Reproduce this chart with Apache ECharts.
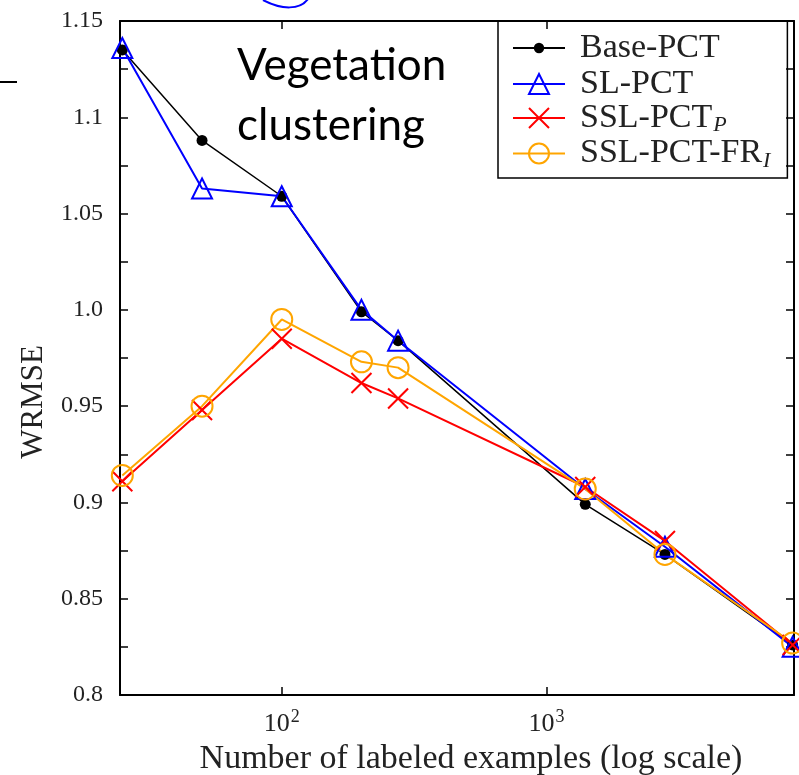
<!DOCTYPE html>
<html lang="en">
<head>
<meta charset="UTF-8">
<title>Vegetation clustering</title>
<script src="https://cdn.jsdelivr.net/npm/echarts@6/dist/echarts.min.js"></script>
<style>
    html, body { margin: 0; padding: 0; background: #fff; }
    #main { width: 799px; height: 775px; }
</style>
</head>
<body>
<div id="main"></div>
<script>
    // x: number of labeled examples (log scale)
    var labeled = [25, 50, 100, 200, 275, 1400, 2800, 8500];
    // WRMSE per method
    var basePct   = [1.135, 1.088, 1.059, 0.999, 0.984, 0.899, 0.873, 0.826];
    var slPct     = [1.136, 1.063, 1.059, 1.000, 0.984, 0.907, 0.877, 0.825];
    var sslPctP   = [0.911, 0.948, 0.985, 0.962, 0.954, 0.908, 0.880, 0.826];
    var sslPctFrI = [0.914, 0.950, 0.995, 0.973, 0.970, 0.907, 0.873, 0.827];
    var seriesNames = ['Base-PCT', 'SL-PCT', 'SSL-PCT_P', 'SSL-PCT-FR_I'];

    function pairs(ys) {
        var out = [];
        for (var i = 0; i < labeled.length; i++) out.push([labeled[i], ys[i]]);
        return out;
    }

    var serif = 'Liberation Serif';
    var txt = '#222';

    // legend label: "_X" -> italic subscript
    function legendText(name) {
        var k = name.indexOf('_');
        if (k < 0) return name;
        return name.slice(0, k) + '{sub|' + name.slice(k + 1) + '}';
    }

    function yLabel(v) {
        var s = String(parseFloat(v.toFixed(3)));
        return s === '1' ? '1.0' : s;
    }

    function xLabel(v) {
        var e = Math.log(v) / Math.LN10;
        if (Math.abs(e - Math.round(e)) > 1e-6) return '';
        return '{b|10}{s|' + Math.round(e) + '}';
    }

    var tickStyle = { show: true, inside: true, length: 8, lineStyle: { color: '#000', width: 1.5 } };
    var lineStyle = { show: true, lineStyle: { color: '#000', width: 2 } };

    var myChart = echarts.init(document.getElementById('main'));

    var option = {
        backgroundColor: '#fff',
        animation: false,
        grid: { left: 120, top: 21, right: 5, bottom: 80, outerBoundsMode: 'none', containLabel: false },
        xAxis: [{
            type: 'log',
            logBase: 10,
            min: 24.5,
            max: 8600,
            position: 'bottom',
            axisLine: lineStyle,
            axisTick: tickStyle,
            splitLine: { show: false },
            minorTick: { show: false },
            axisLabel: {
                margin: 13,
                formatter: xLabel,
                rich: {
                    b: { fontFamily: serif, fontSize: 26, color: txt },
                    s: { fontFamily: serif, fontSize: 18, color: txt, padding: [0, 0, 15, 1] }
                }
            },
            name: 'Number of labeled examples (log scale)',
            nameLocation: 'middle',
            nameGap: 46,
            nameTextStyle: { fontFamily: serif, fontSize: 34, color: txt, padding: [0, 0, 0, 28] }
        }, {
            type: 'log',
            logBase: 10,
            min: 24.5,
            max: 8600,
            position: 'top',
            axisLine: lineStyle,
            axisTick: tickStyle,
            axisLabel: { show: false },
            splitLine: { show: false }
        }],
        yAxis: [{
            type: 'value',
            min: 0.8,
            max: 1.15,
            interval: 0.05,
            position: 'left',
            axisLine: lineStyle,
            axisTick: tickStyle,
            minorTick: { show: true, splitNumber: 2, length: 8, lineStyle: { color: '#000', width: 1.5 } },
            splitLine: { show: false },
            axisLabel: { margin: 17, formatter: yLabel, fontFamily: serif, fontSize: 24, color: txt },
            name: 'WRMSE',
            nameLocation: 'middle',
            nameRotate: 90,
            nameGap: 71,
            nameTextStyle: { fontFamily: serif, fontSize: 31, color: txt, padding: [0, 88, 0, 0] }
        }, {
            type: 'value',
            min: 0.8,
            max: 1.15,
            interval: 0.05,
            position: 'right',
            axisLine: lineStyle,
            axisTick: tickStyle,
            minorTick: { show: true, splitNumber: 2, length: 8, lineStyle: { color: '#000', width: 1.5 } },
            splitLine: { show: false },
            axisLabel: { show: false }
        }],
        legend: [{
            // the bordered box, holds the three larger markers
            data: seriesNames.slice(1),
            orient: 'vertical',
            left: 498,
            top: 21,
            padding: [46, 17, 6, 14],
            itemWidth: 52,
            itemHeight: 25,
            itemGap: 0,
            borderColor: '#000',
            borderWidth: 1.5,
            formatter: legendText,
            textStyle: {
                fontFamily: serif, fontSize: 34, color: txt, padding: [0, 0, 0, 10],
                rich: { sub: { fontFamily: serif, fontStyle: 'italic', fontSize: 22, color: txt, padding: [15, 0, 0, 1] } }
            }
        }, {
            // Base-PCT with its small dot
            data: seriesNames.slice(0, 1),
            orient: 'vertical',
            left: 498,
            top: 31,
            padding: [0, 0, 0, 14],
            itemWidth: 52,
            itemHeight: 13,
            formatter: legendText,
            textStyle: { fontFamily: serif, fontSize: 34, color: txt, padding: [0, 0, 0, 10] }
        }],
        graphic: [{
            type: 'text',
            left: 237,
            top: 36,
            style: {
                text: 'Vegetation\nclustering',
                font: '44px Lato',
                lineHeight: 60,
                fill: '#000'
            }
        }, {
            type: 'line',
            shape: { x1: 0, y1: 82, x2: 17, y2: 82 },
            style: { stroke: '#000', lineWidth: 2 }
        }, {
            type: 'bezierCurve',
            shape: { x1: 263, y1: 0, cpx1: 282, cpy1: 10, cpx2: 300, cpy2: 10, x2: 308, y2: -1 },
            style: { stroke: '#0000ff', lineWidth: 2, fill: null }
        }],
        series: [{
            name: 'Base-PCT',
            type: 'line',
            data: pairs(basePct),
            symbol: 'circle',
            symbolSize: 11,
            lineStyle: { color: '#000', width: 1.5 },
            itemStyle: { color: '#000' }
        }, {
            name: 'SL-PCT',
            type: 'line',
            data: pairs(slPct),
            symbol: 'triangle',
            symbolSize: 20,
            lineStyle: { color: '#0000ff', width: 2 },
            itemStyle: { color: 'rgba(0,0,0,0)', borderColor: '#0000ff', borderWidth: 2 }
        }, {
            name: 'SSL-PCT_P',
            type: 'line',
            data: pairs(sslPctP),
            symbol: 'path://M0,0L10,10M10,0L0,10',
            symbolSize: 20,
            lineStyle: { color: '#ff0000', width: 2 },
            itemStyle: { color: 'rgba(0,0,0,0)', borderColor: '#ff0000', borderWidth: 2 }
        }, {
            name: 'SSL-PCT-FR_I',
            type: 'line',
            data: pairs(sslPctFrI),
            symbol: 'circle',
            symbolSize: 21,
            lineStyle: { color: '#ffa500', width: 2 },
            itemStyle: { color: 'rgba(0,0,0,0)', borderColor: '#ffa500', borderWidth: 2 }
        }]
    };
    myChart.setOption(option);
</script>
</body>
</html>
